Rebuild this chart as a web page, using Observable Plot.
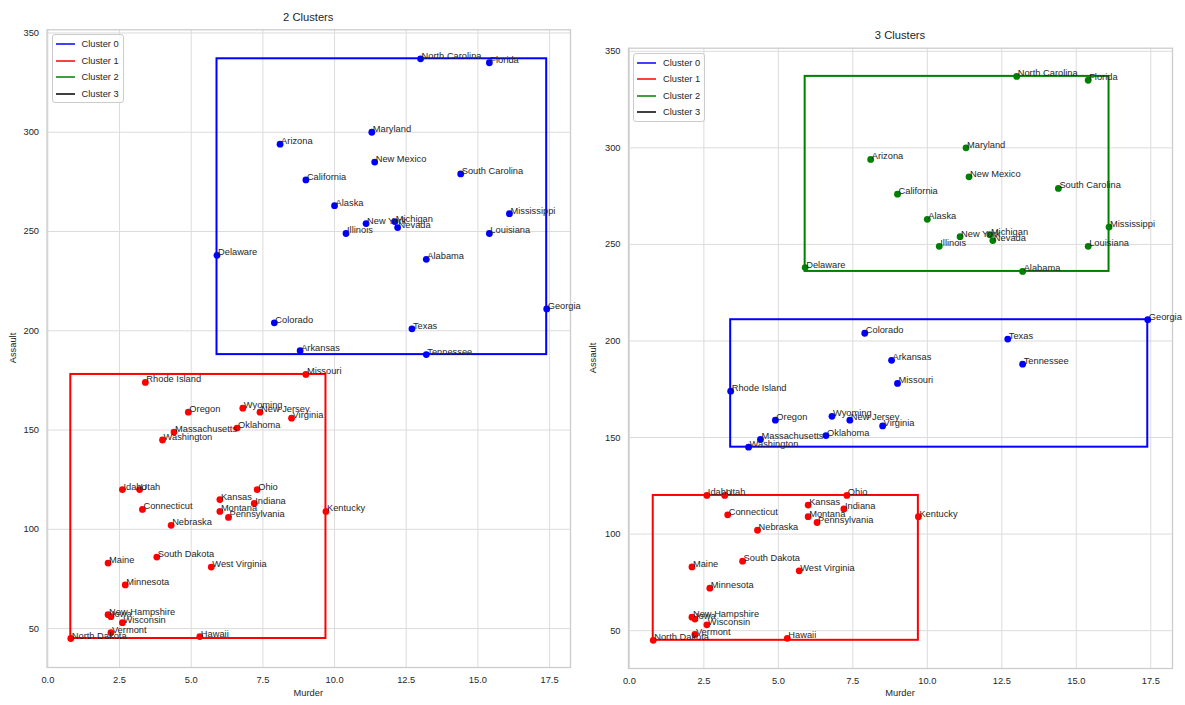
<!DOCTYPE html>
<html>
<head>
<meta charset="utf-8">
<script src="https://cdn.jsdelivr.net/npm/d3@7"></script>
<script src="https://cdn.jsdelivr.net/npm/@observablehq/plot@0.6"></script>
<style>
  html, body { margin: 0; padding: 0; background: #fff; }
  #wrap { position: relative; width: 1185px; height: 705px; font-family: "Liberation Sans", Arial, sans-serif; color: #262626; overflow: hidden; }
  .panel { position: absolute; top: 0; }
  .lbl { position: absolute; white-space: nowrap; font-size: 9.3px; line-height: 1; transform: translate(-50%, -50%); }
  .title { font-size: 11.2px; }
  .rot { transform: translate(-50%, -50%) rotate(-90deg); }
  .legend { position: absolute; border: 1px solid #cccccc; border-radius: 3px; background: rgba(255,255,255,0.85); box-sizing: border-box; }
  .legend .row { position: absolute; left: 0; height: 12px; font-size: 9.3px; line-height: 12px; white-space: nowrap; }
  .legend .sw { position: absolute; left: 3px; top: 5px; width: 19px; height: 2px; opacity: 0.75; }
  .legend .tx { position: absolute; left: 29px; top: 0; }
</style>
</head>
<body>
<div id="wrap"></div>
<script>
const states = ["Alabama","Alaska","Arizona","Arkansas","California","Colorado","Connecticut","Delaware","Florida","Georgia","Hawaii","Idaho","Illinois","Indiana","Iowa","Kansas","Kentucky","Louisiana","Maine","Maryland","Massachusetts","Michigan","Minnesota","Mississippi","Missouri","Montana","Nebraska","Nevada","New Hampshire","New Jersey","New Mexico","New York","North Carolina","North Dakota","Ohio","Oklahoma","Oregon","Pennsylvania","Rhode Island","South Carolina","South Dakota","Tennessee","Texas","Utah","Vermont","Virginia","Washington","West Virginia","Wisconsin","Wyoming"];
const murder = [13.2,10.0,8.1,8.8,9.0,7.9,3.3,5.9,15.4,17.4,5.3,2.6,10.4,7.2,2.2,6.0,9.7,15.4,2.1,11.3,4.4,12.1,2.7,16.1,9.0,6.0,4.3,12.2,2.1,7.4,11.4,11.1,13.0,0.8,7.3,6.6,4.9,6.3,3.4,14.4,3.8,13.2,12.7,3.2,2.2,8.5,4.0,5.7,2.6,6.8];
const assault = [236,263,294,190,276,204,110,238,335,211,46,120,249,113,56,115,109,249,83,300,149,255,72,259,178,109,102,252,57,159,285,254,337,45,120,151,159,106,174,279,86,188,201,120,48,156,145,81,53,161];
const clusters2 = [0,0,0,0,0,0,1,0,0,0,1,1,0,1,1,1,1,0,1,0,1,0,1,0,1,1,1,0,1,1,0,0,0,1,1,1,1,1,1,0,1,0,0,1,1,1,1,1,1,1];
const clusters3 = [2,2,2,0,2,0,1,2,2,0,1,1,2,1,1,1,1,2,1,2,0,2,1,2,0,1,1,2,1,0,2,2,2,1,1,0,0,1,0,2,1,0,0,1,1,0,0,1,1,0];
const clusterNames = ["Cluster 0","Cluster 1","Cluster 2","Cluster 3"];
const clusterColors = ["#0000ff","#ff0000","#008000","#000000"];
const xTicks = [0,2.5,5,7.5,10,12.5,15,17.5];
const yTicks = [50,100,150,200,250,300,350];
const panelTitles = ["2 Clusters","3 Clusters"];
const xLabel = "Murder";
const yLabel = "Assault";

const wrap = document.getElementById("wrap");

function panel(cfg) {
  const data = states.map((s, i) => ({state: s, x: murder[i], y: assault[i], k: cfg.clusters[i]}));
  const boxes = d3.rollups(data, v => ({
    x1: d3.min(v, d => d.x), x2: d3.max(v, d => d.x),
    y1: d3.min(v, d => d.y), y2: d3.max(v, d => d.y)
  }), d => d.k).map(([k, b]) => ({k, ...b}));
  const xmin = d3.min(murder), xmax = d3.max(murder);
  const ymin = d3.min(assault), ymax = d3.max(assault);
  const xm = (xmax - xmin) * 0.05, ym = (ymax - ymin) * 0.05;
  const svg = Plot.plot({
    width: cfg.width, height: 705,
    marginLeft: cfg.ml, marginRight: cfg.mr, marginTop: cfg.mt, marginBottom: cfg.mb,
    style: {fontFamily: '"Liberation Sans", Arial, sans-serif', fontSize: "9.3px", color: "#262626", background: "#fff", overflow: "visible"},
    x: {domain: [xmin - xm, xmax + xm]},
    y: {domain: [ymin - ym, ymax + ym]},
    color: {type: "ordinal", domain: [0,1,2,3], range: clusterColors},
    marks: [
      Plot.gridX(xTicks, {stroke: "#dcdcdc", strokeOpacity: 1, strokeWidth: 1}),
      Plot.gridY(yTicks, {stroke: "#dcdcdc", strokeOpacity: 1, strokeWidth: 1}),
      Plot.frame({stroke: "#cccccc", strokeWidth: 1.3}),
      Plot.axisX({ticks: xTicks, tickSize: 0, tickPadding: 8.5, tickFormat: d3.format(".1f"), label: null, fill: "#262626"}),
      Plot.axisY({ticks: yTicks, tickSize: 0, tickPadding: 8, label: null, fill: "#262626"}),
      Plot.rect(boxes, {x1: "x1", x2: "x2", y1: "y1", y2: "y2", stroke: "k", fill: "none", strokeWidth: 2}),
      Plot.dot(data, {x: "x", y: "y", fill: "k", r: 3.4}),
      Plot.text(data, {x: "x", y: "y", text: "state", textAnchor: "start", lineAnchor: "bottom", dx: 1, dy: 0, fill: "#262626", fontSize: 9.3})
    ]
  });
  const div = document.createElement("div");
  div.className = "panel";
  div.style.left = cfg.left + "px";
  div.appendChild(svg);
  wrap.appendChild(div);

  const fx0 = cfg.left + cfg.ml, fx1 = cfg.left + cfg.width - cfg.mr;
  const fy0 = cfg.mt, fy1 = 705 - cfg.mb;
  const cx = (fx0 + fx1) / 2, cy = (fy0 + fy1) / 2;

  const t = document.createElement("div");
  t.className = "lbl title"; t.textContent = cfg.title;
  t.style.left = cx + "px"; t.style.top = (fy0 - 11.5) + "px";
  wrap.appendChild(t);

  const xl = document.createElement("div");
  xl.className = "lbl"; xl.textContent = xLabel;
  xl.style.left = cx + "px"; xl.style.top = "694px";
  wrap.appendChild(xl);

  const yl = document.createElement("div");
  yl.className = "lbl rot"; yl.textContent = yLabel;
  yl.style.left = cfg.ylx + "px"; yl.style.top = cy + "px";
  wrap.appendChild(yl);

  const lg = document.createElement("div");
  lg.className = "legend";
  lg.style.left = (fx0 + 5) + "px"; lg.style.top = (fy0 + 5) + "px";
  lg.style.width = "72px"; lg.style.height = "69px";
  clusterNames.forEach((name, i) => {
    const row = document.createElement("div");
    row.className = "row";
    row.style.top = (3 + i * 16.5) + "px";
    const sw = document.createElement("div");
    sw.className = "sw"; sw.style.background = clusterColors[i];
    const tx = document.createElement("div");
    tx.className = "tx"; tx.textContent = name;
    row.appendChild(sw); row.appendChild(tx);
    lg.appendChild(row);
  });
  wrap.appendChild(lg);
}

panel({clusters: clusters2, title: panelTitles[0], left: 0, width: 590, ml: 46.5, mr: 20, mt: 29.3, mb: 38, ylx: 14});
panel({clusters: clusters3, title: panelTitles[1], left: 590, width: 595, ml: 38, mr: 13, mt: 47.7, mb: 37, ylx: 594});
</script>
</body>
</html>
